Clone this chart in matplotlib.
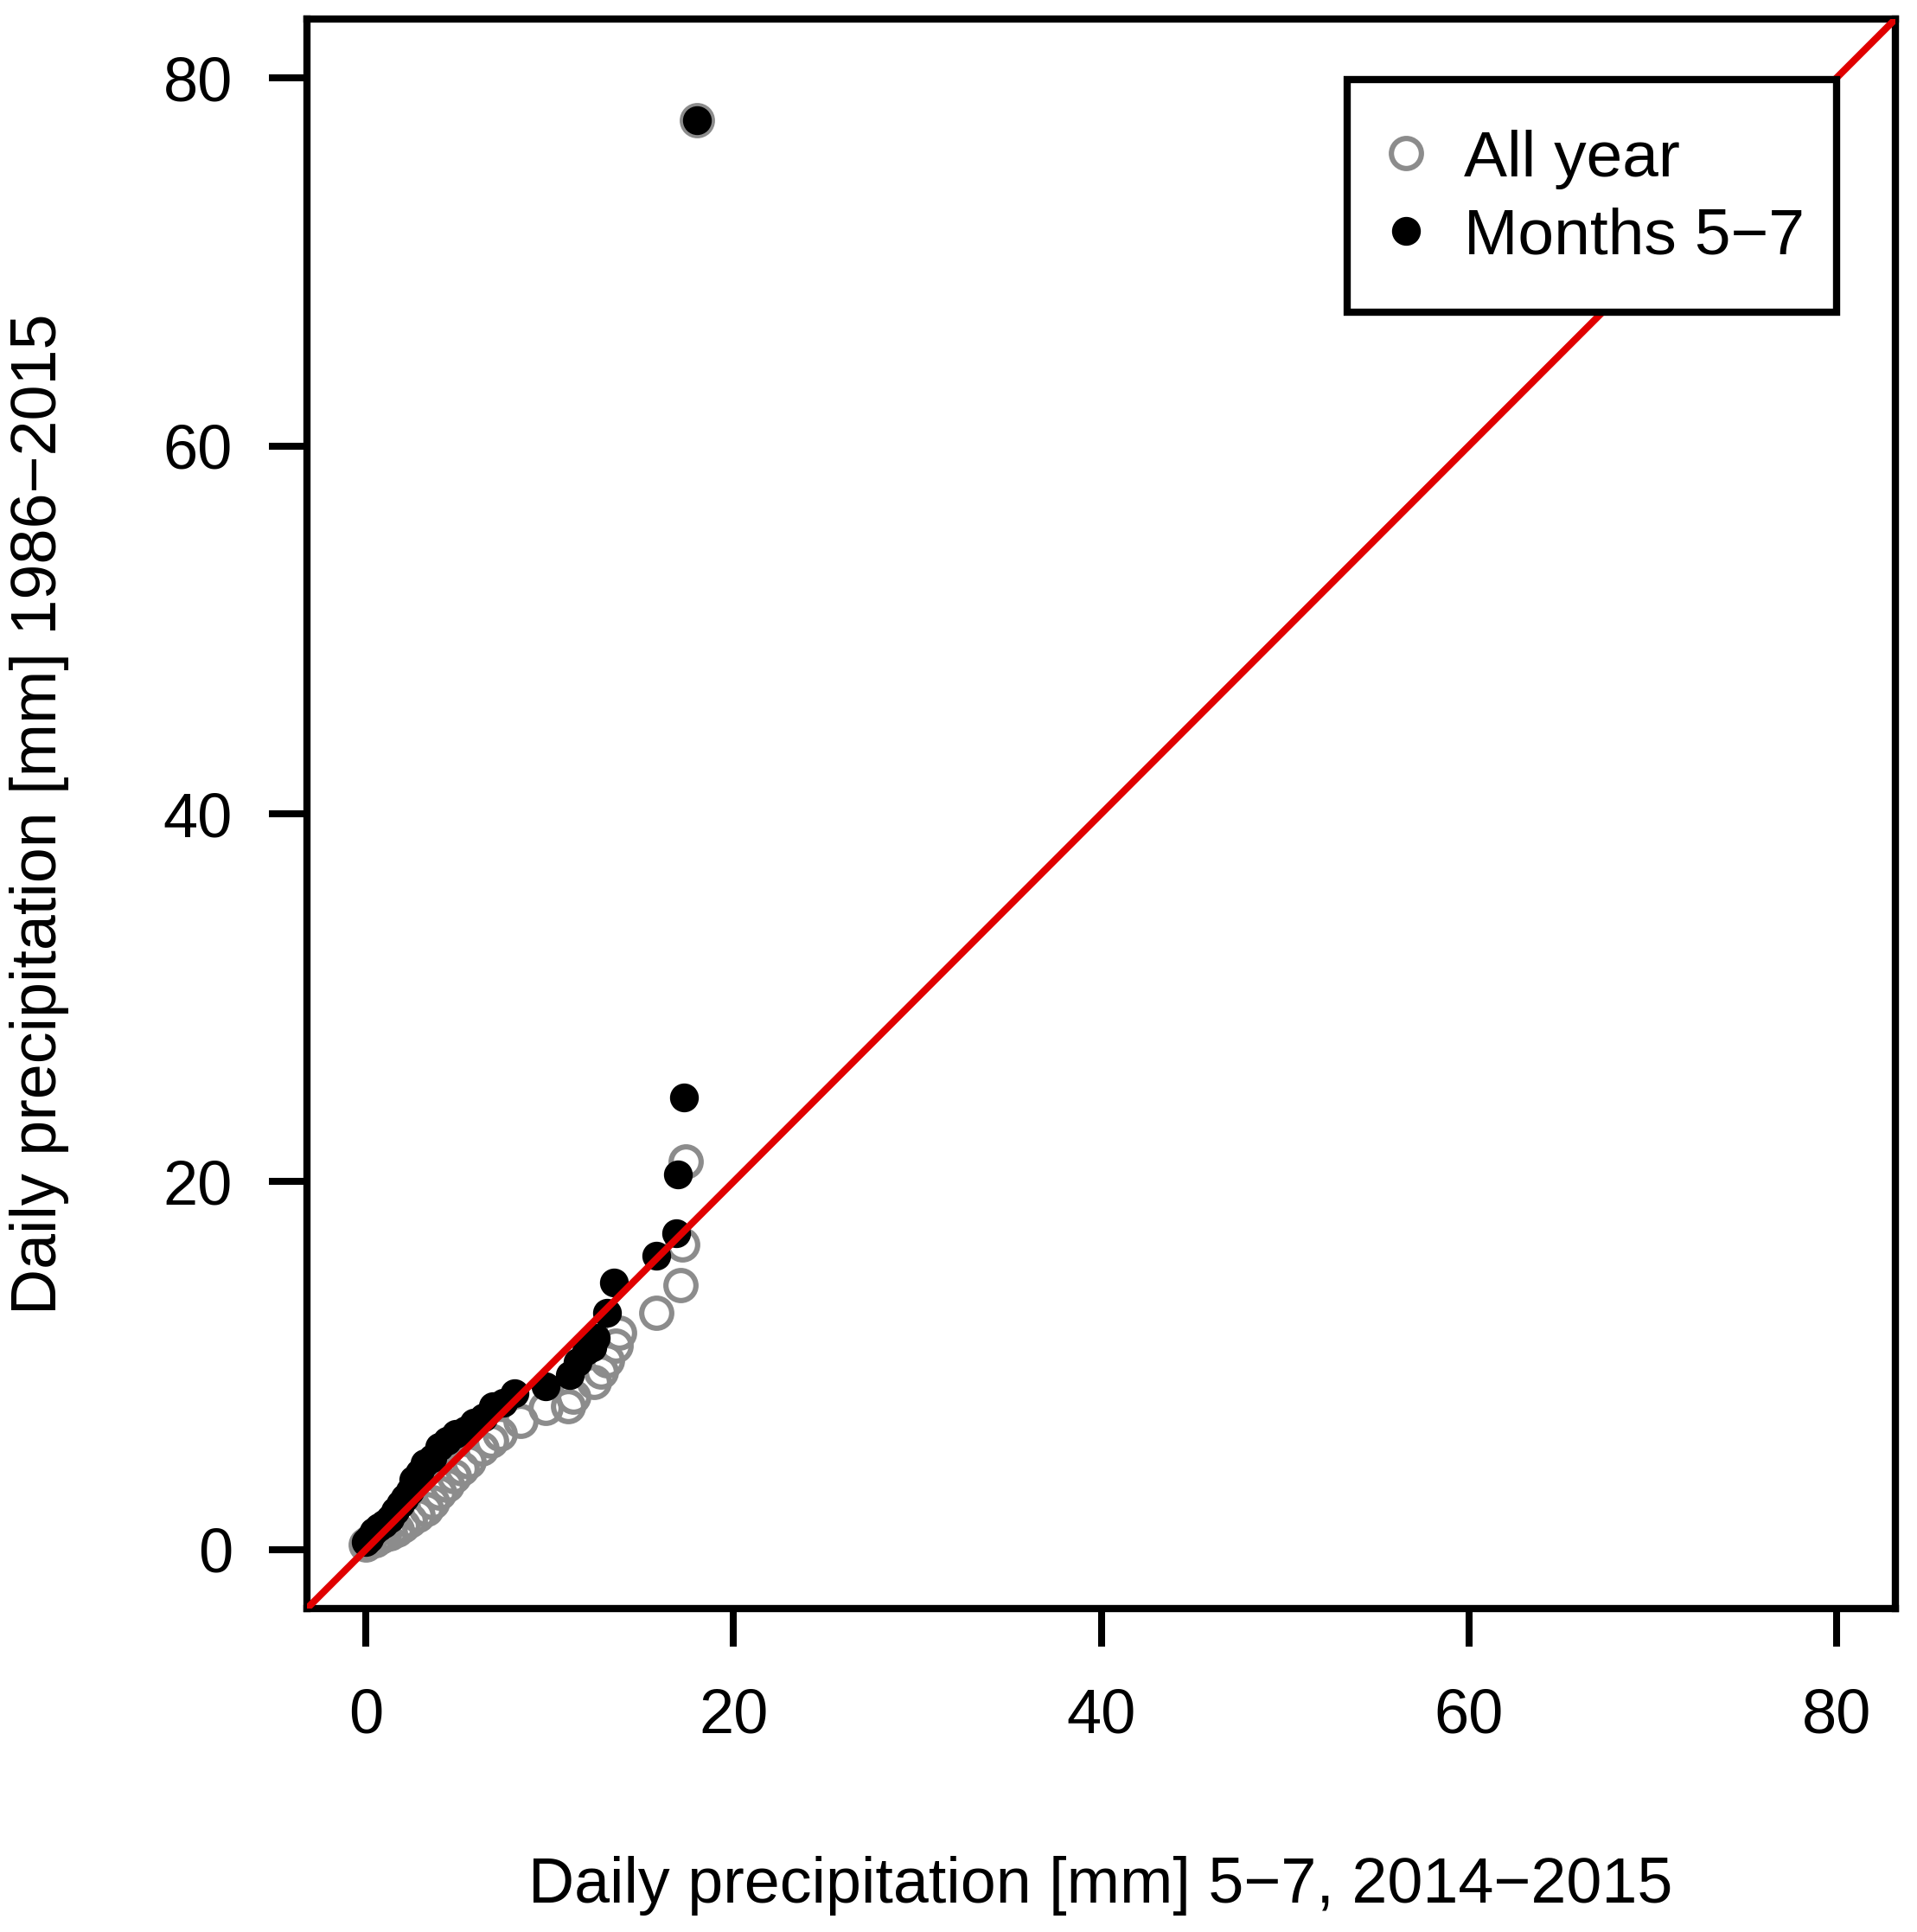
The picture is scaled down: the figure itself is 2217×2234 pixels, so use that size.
import matplotlib
matplotlib.use("Agg")
import matplotlib.pyplot as plt
from matplotlib.patches import Rectangle

plt.rcParams['font.family'] = ['Liberation Sans', 'DejaVu Sans']

# quantiles (x: 2014-2015 months 5-7, y: reference period)
all_year_x = [0.0, 0.2, 0.5, 0.8, 1.0, 1.3, 1.7, 2.0, 2.4, 2.8,
              3.3, 3.6, 4.0, 4.4, 4.8, 5.2, 5.6, 6.3, 6.8, 7.3,
              8.4, 9.8, 11.0, 11.3, 12.4, 12.8, 13.1, 13.6, 13.8, 15.8,
              17.1, 17.2, 17.4, 18.0]
all_year_y = [0.3, 0.4, 0.5, 0.7, 0.8, 0.9, 1.1, 1.3, 1.6, 1.9,
              2.2, 2.6, 3.1, 3.5, 4.0, 4.4, 4.8, 5.5, 5.9, 6.3,
              7.0, 7.7, 7.8, 8.3, 9.1, 9.7, 10.3, 11.1, 11.8, 12.9,
              14.4, 16.6, 21.1, 77.7]

months_x = [0.0, 0.2, 0.4, 0.7, 1.0, 1.3, 1.6, 1.9, 2.1, 2.4,
            2.6, 2.9, 3.2, 3.6, 4.0, 4.4, 4.9, 5.4, 5.9, 6.4,
            6.9, 7.5, 8.1, 9.8, 11.1, 11.5, 12.0, 12.3, 12.5, 13.1,
            13.5, 15.8, 16.9, 17.0, 17.3, 18.0]
months_y = [0.4, 0.6, 1.0, 1.2, 1.4, 1.7, 2.1, 2.5, 2.8, 3.2,
            3.8, 4.2, 4.7, 5.0, 5.6, 5.9, 6.3, 6.5, 6.9, 7.2,
            7.8, 8.0, 8.5, 8.9, 9.5, 10.2, 10.8, 11.0, 11.5, 12.9,
            14.5, 16.0, 17.2, 20.4, 24.6, 77.7]

ticks = [0, 20, 40, 60, 80]

fig = plt.figure(figsize=(2217 / 200, 2234 / 200), dpi=200)
ax = fig.add_axes([355 / 2217, 1 - 1860 / 2234, (2192 - 355) / 2217, (1860 - 22) / 2234])

ax.plot(all_year_x, all_year_y, 'o', ls='none', mfc='none', mec='#8c8c8c',
        ms=12.5, mew=2.2, label='All year', zorder=2)
ax.plot(months_x, months_y, 'o', ls='none', mfc='black', mec='black',
        ms=11.5, mew=0.5, label='Months 5\u22127', zorder=3)
ax.axline((0, 0), slope=1, color='#e00000', lw=2.9, zorder=4)

ax.set_xlim(-3.2, 83.2)
ax.set_ylim(-3.2, 83.2)
ax.set_xticks(ticks)
ax.set_yticks(ticks)
for s in ax.spines.values():
    s.set_linewidth(3.0)
ax.tick_params(direction='out', length=16, width=2.9, labelsize=26)
ax.tick_params(axis='x', pad=17)
ax.tick_params(axis='y', pad=15)

fig.text(1273 / 2217, 1 - 2200 / 2234, 'Daily precipitation [mm] 5\u22127, 2014\u22122015',
         ha='center', va='baseline', fontsize=26.5)
fig.text(46 / 2217, 1 - 941 / 2234, 'Daily precipitation [mm] 1986\u22122015',
         ha='center', va='center', rotation=90, fontsize=26.5)

# legend box drawn separately so its padding can differ from the text padding
ax.add_patch(Rectangle((0.655, 0.8157), 0.963 - 0.655, 0.962 - 0.8157,
                       transform=ax.transAxes, facecolor='white', edgecolor='black',
                       lw=3.0, zorder=5))
leg = ax.legend(loc='upper right', bbox_to_anchor=(0.963, 0.951), fontsize=27,
                frameon=False, borderpad=0.5, handlelength=0.9,
                handletextpad=0.44, labelspacing=0.28, borderaxespad=0)
leg.set_zorder(6)

fig.savefig('out.png', dpi=200)
